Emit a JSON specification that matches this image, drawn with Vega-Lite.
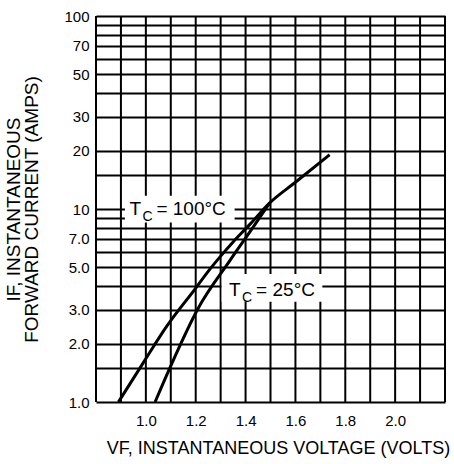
{
  "$schema": "https://vega.github.io/schema/vega-lite/v6.json",
  "width": 349,
  "height": 386,
  "autosize": {"type": "none"},
  "padding": {"left": 96, "top": 16, "right": 9, "bottom": 62},
  "background": "white",
  "config": {
    "view": {"stroke": null},
    "font": "Liberation Sans",
    "axis": {
      "gridColor": "black",
      "gridWidth": 2,
      "gridOpacity": 1,
      "domain": false,
      "ticks": false,
      "labelColor": "black",
      "labelFontSize": 15,
      "labelFlush": false,
      "labelOverlap": false,
      "titleColor": "black",
      "titleFontSize": 18,
      "titleFontWeight": "normal"
    }
  },
  "datasets": {
    "vgrid": [
      {"v": 0.8}, {"v": 0.9}, {"v": 1.0}, {"v": 1.1}, {"v": 1.2}, {"v": 1.3}, {"v": 1.4}, {"v": 1.5},
      {"v": 1.6}, {"v": 1.7}, {"v": 1.8}, {"v": 1.9}, {"v": 2.0}, {"v": 2.1}, {"v": 2.2}
    ],
    "curves": [
      {"series": "100C", "v": 0.89, "i": 1.0},
      {"series": "100C", "v": 0.99, "i": 1.6},
      {"series": "100C", "v": 1.084, "i": 2.47},
      {"series": "100C", "v": 1.204, "i": 3.95},
      {"series": "100C", "v": 1.25, "i": 4.75},
      {"series": "100C", "v": 1.3, "i": 5.7},
      {"series": "100C", "v": 1.35, "i": 6.75},
      {"series": "100C", "v": 1.42, "i": 8.4},
      {"series": "100C", "v": 1.497, "i": 10.76},
      {"series": "100C", "v": 1.6, "i": 13.76},
      {"series": "100C", "v": 1.737, "i": 19.1},
      {"series": "25C", "v": 1.037, "i": 1.0},
      {"series": "25C", "v": 1.1, "i": 1.54},
      {"series": "25C", "v": 1.21, "i": 3.06},
      {"series": "25C", "v": 1.337, "i": 5.4},
      {"series": "25C", "v": 1.42, "i": 7.7},
      {"series": "25C", "v": 1.497, "i": 10.76}
    ],
    "boxes": [
      {"v0": 0.916, "v1": 1.356, "i0": 8.5, "i1": 11.7},
      {"v0": 1.304, "v1": 1.708, "i0": 3.31, "i1": 4.6}
    ],
    "labels": [
      {"v": 0.934, "i": 9.35, "t": "T", "sub": "C", "rest": "= 100°C"},
      {"v": 1.334, "i": 3.55, "t": "T", "sub": "C", "rest": "= 25°C"}
    ]
  },
  "layer": [
    {
      "data": {"name": "vgrid"},
      "mark": {"type": "rule", "color": "black", "strokeWidth": 2},
      "encoding": {
        "x": {
          "field": "v",
          "type": "quantitative",
          "scale": {"domain": [0.8, 2.2], "nice": false, "zero": false},
          "axis": {
            "grid": false,
            "values": [0.8, 0.9, 1.0, 1.1, 1.2, 1.3, 1.4, 1.5, 1.6, 1.7, 1.8, 1.9, 2.0, 2.1, 2.2],
            "labelExpr": "datum.value >= 0.95 && datum.value <= 2.05 && round(datum.value * 10) % 2 == 0 ? format(datum.value, '.1f') : ''",
            "labelPadding": 11,
            "title": "VF, INSTANTANEOUS VOLTAGE (VOLTS)",
            "titlePadding": 11,
            "titleX": 182
          }
        }
      }
    },
    {
      "data": {"name": "boxes"},
      "mark": {"type": "rect", "fill": "white", "stroke": null},
      "encoding": {
        "x": {"field": "v0", "type": "quantitative"},
        "x2": {"field": "v1"},
        "y": {
          "field": "i0",
          "type": "quantitative",
          "scale": {"type": "log", "domain": [1, 100], "nice": false},
          "axis": {
            "grid": true,
            "values": [1, 1.5, 2, 3, 4, 5, 6, 7, 8, 9, 10, 15, 20, 30, 40, 50, 60, 70, 80, 90, 100],
            "labelExpr": "indexof([1, 2, 3, 5, 7], datum.value) >= 0 ? format(datum.value, '.1f') : (indexof([10, 20, 30, 50, 70, 100], datum.value) >= 0 ? format(datum.value, 'd') : '')",
            "labelPadding": 7,
            "title": ["IF, INSTANTANEOUS", "FORWARD CURRENT (AMPS)"],
            "titleFontSize": 19,
            "titleLineHeight": 18,
            "titlePadding": 22
          }
        },
        "y2": {"field": "i1"}
      }
    },
    {
      "data": {"name": "curves"},
      "mark": {"type": "line", "color": "black", "strokeWidth": 3, "interpolate": "monotone"},
      "encoding": {
        "x": {"field": "v", "type": "quantitative"},
        "y": {"field": "i", "type": "quantitative"},
        "detail": {"field": "series"}
      }
    },
    {
      "data": {"name": "labels"},
      "mark": {"type": "text", "align": "left", "baseline": "alphabetic", "fontSize": 19, "color": "black"},
      "encoding": {
        "x": {"field": "v", "type": "quantitative"},
        "y": {"field": "i", "type": "quantitative"},
        "text": {"field": "t"}
      }
    },
    {
      "data": {"name": "labels"},
      "mark": {"type": "text", "align": "left", "baseline": "alphabetic", "fontSize": 14, "dx": 13, "dy": 6, "color": "black"},
      "encoding": {
        "x": {"field": "v", "type": "quantitative"},
        "y": {"field": "i", "type": "quantitative"},
        "text": {"field": "sub"}
      }
    },
    {
      "data": {"name": "labels"},
      "mark": {"type": "text", "align": "left", "baseline": "alphabetic", "fontSize": 19, "dx": 27, "color": "black"},
      "encoding": {
        "x": {"field": "v", "type": "quantitative"},
        "y": {"field": "i", "type": "quantitative"},
        "text": {"field": "rest"}
      }
    }
  ]
}
